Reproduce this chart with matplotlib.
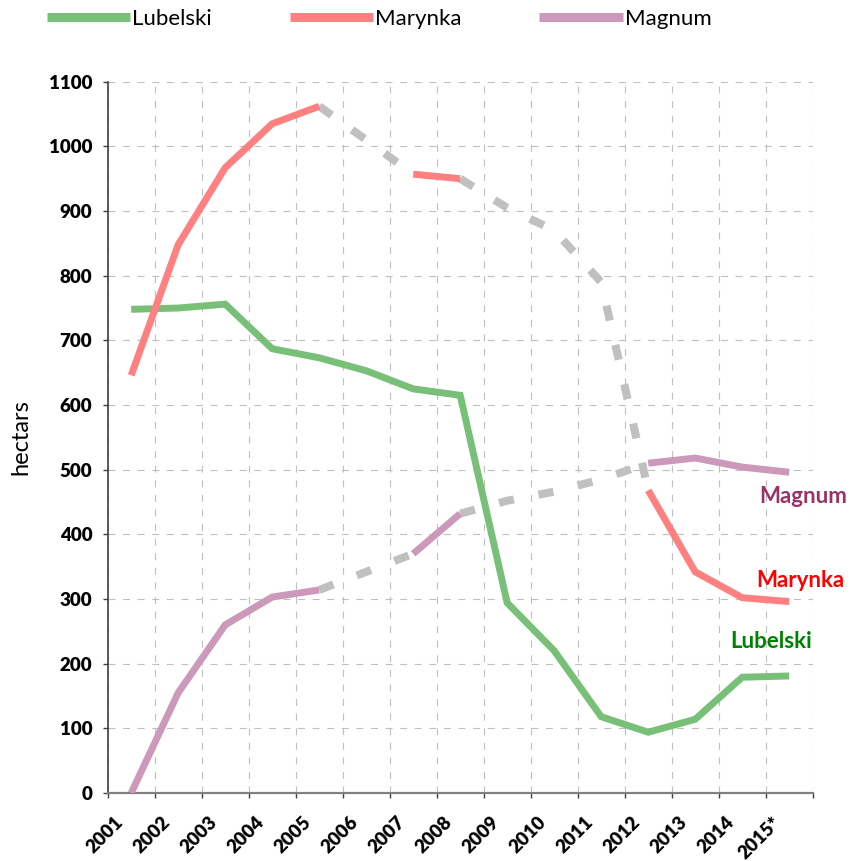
import numpy as np
import matplotlib

matplotlib.use("Agg")
import matplotlib.pyplot as plt
from matplotlib.lines import Line2D
from matplotlib.transforms import ScaledTranslation

plt.rcParams["font.family"] = ["Lato", "DejaVu Sans"]
plt.rcParams["lines.scale_dashes"] = False

nan = np.nan

# categories
years = ["2001", "2002", "2003", "2004", "2005", "2006", "2007", "2008",
         "2009", "2010", "2011", "2012", "2013", "2014", "2015*"]

# reported areas (hectars), nan = no data that year
lubelski = [748, 750, 756, 687, 673, 653, 625, 615, 294, 220, 118, 94, 114, 179, 181]
marynka = [646, 848, 967, 1035, 1062, nan, 957, 950, nan, nan, nan, 468, 342, 302, 296]
magnum = [0, 155, 260, 303, 314, nan, 370, 432, nan, nan, nan, 510, 518, 504, 496]

# grey estimates bridging the missing years
marynka_est = [nan, nan, nan, nan, 1062, 1010, 957, 950, 905, 870, 790, 468, nan, nan, nan]
magnum_est = [nan, nan, nan, nan, 314, 342, 370, 432, 452, 466, 485, 510, nan, nan, nan]

series = [
    ("Lubelski", lubelski, "#78C078", "#008000"),
    ("Marynka", marynka, "#FF8080", "#FF0000"),
    ("Magnum", magnum, "#CC99BB", "#993366"),
]


def gap_runs(values, estimate):
    """Return (x, y) runs of the estimate over segments where real data is missing."""
    values = np.asarray(values, dtype=float)
    estimate = np.asarray(estimate, dtype=float)
    runs, current = [], []
    for i in range(len(values) - 1):
        usable = np.isfinite(estimate[i]) and np.isfinite(estimate[i + 1])
        missing = np.isnan(values[i]) or np.isnan(values[i + 1])
        if usable and missing:
            if not current:
                current = [i]
            current.append(i + 1)
        elif current:
            runs.append(current)
            current = []
    if current:
        runs.append(current)
    return [(np.array(r), estimate[r]) for r in runs]


fig = plt.figure(figsize=(8.52, 8.61), dpi=100)
ax = fig.add_axes([107.7 / 852, 1 - 793 / 861, (812.7 - 107.7) / 852, (793 - 81.7) / 861])

x = np.arange(len(years))

for values, estimate in [(marynka, marynka_est), (magnum, magnum_est)]:
    for gx, gy in gap_runs(values, estimate):
        ax.plot(gx, gy, color="#C0C0C0", lw=5.8, linestyle=(0, (11, 18)),
                dash_capstyle="butt", zorder=2)

for name, values, color, _ in series:
    ax.plot(x, values, color=color, lw=5.0, solid_joinstyle="miter",
            solid_capstyle="butt", zorder=3)

# inline series labels
label_font = dict(fontsize=16, fontweight="bold", ha="center", va="center")
ax.text(14.29, 458, "Magnum", color="#993366", **label_font)
ax.text(14.23, 329, "Marynka", color="#FF0000", **label_font)
ax.text(13.61, 235, "Lubelski", color="#008000", **label_font)

ax.set_xlim(-0.5, len(years) - 0.5)
ax.set_ylim(0, 1100)

grid_style = dict(color="#BFBFBF", lw=0.8, linestyle=(0, (5, 5.5)))
ax.set_yticks(np.arange(0, 1101, 100))
ax.yaxis.grid(True, **grid_style)
ax.set_xticks(x)
ax.set_xticks(np.arange(-0.5, len(years), 1), minor=True)
ax.xaxis.grid(True, which="minor", **grid_style)
ax.set_axisbelow(True)

ax.set_xticklabels(years, rotation=45, ha="right", va="center", rotation_mode="anchor",
                   fontsize=13.5, fontweight="heavy")
ax.tick_params(axis="x", which="major", length=0, pad=19)
ax.tick_params(axis="x", which="minor", length=3.6, width=1, color="#404040", direction="out")
for lab in ax.get_yticklabels():
    lab.set_fontweight("heavy")
    lab.set_fontsize(13.5)
ax.tick_params(axis="y", length=3.6, width=1, color="#404040", pad=7.5)
for lab in ax.get_xticklabels():
    lab.set_transform(lab.get_transform() + ScaledTranslation(-11 / 100, 0, fig.dpi_scale_trans))

ax.spines["top"].set_visible(False)
ax.spines["right"].set_visible(False)
ax.spines["left"].set_color("#404040")
ax.spines["left"].set_linewidth(1.2)
ax.spines["bottom"].set_color("#808080")
ax.spines["bottom"].set_linewidth(1.6)

fig.text(21 / 852, 1 - 437 / 861, "hectars", rotation=90, ha="center", va="center", fontsize=17)

handles = [Line2D([], [], color=c, lw=6.5, solid_capstyle="butt") for _, _, c, _ in series]
fig.legend(handles, [s[0] for s in series], loc="upper left",
           bbox_to_anchor=(47 / 852, 1 - 9 / 861), ncol=3, frameon=False,
           fontsize=16, handlelength=3.74, handletextpad=0.1, columnspacing=3.5,
           borderpad=0, borderaxespad=0)

fig.savefig("out.png", dpi=100)
